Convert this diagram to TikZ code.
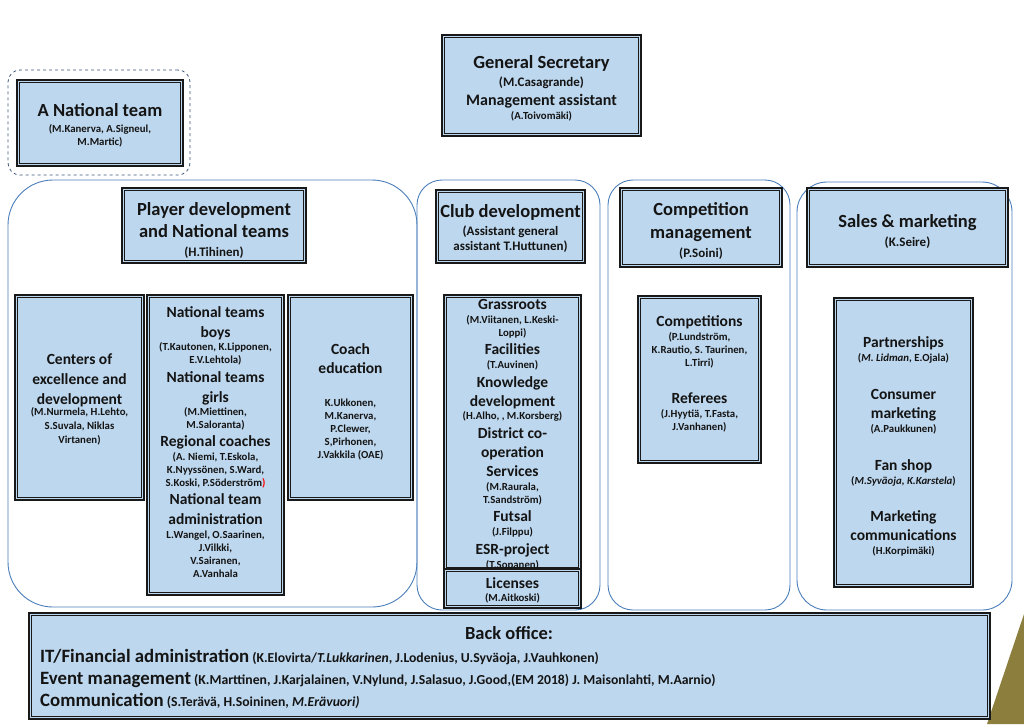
\documentclass[tikz,border=0pt]{standalone}
\usepackage{fontspec}
\setmainfont{Carlito}
\definecolor{boxfill}{HTML}{BDD7EE}
\definecolor{cont}{HTML}{4A7EBB}
\definecolor{contdark}{HTML}{3B5577}
\definecolor{gold}{HTML}{8C7F3E}
\definecolor{txt}{HTML}{141414}
\newcounter{tlc}
\newcommand\txl[4]{\stepcounter{tlc}\node[anchor=mid,#1] (tl\arabic{tlc}) at (#2,#3) {#4};}
\newcommand\bb[6][]{\node[#1,minimum width={#5-#3},minimum height={#6-#4}] (#2) at ({(#3+#5)/2},{(#4+#6)/2}) {};}
% double-bordered box: thick outer line plus thin inner line
\newcommand\dbb[5]{\node[bx,minimum width={#4-#2},minimum height={#5-#3}] (#1) at ({(#2+#4)/2},{(#3+#5)/2}) {};
  \draw[inl] ([shift={(2.6,2.6)}]#1.north west) rectangle ([shift={(-2.6,-2.6)}]#1.south east);}
\newcommand\bhead[1]{{\fontsize{18.8}{20}\selectfont #1}}
\tikzset{
  bx/.style={draw=black!90, line width=1.5pt, fill=boxfill, inner sep=0pt, outer sep=0pt},
  inl/.style={draw=black!90, line width=0.6pt},
  cnt/.style={draw=cont, line width=0.9pt, inner sep=0pt, outer sep=0pt},
  big/.style={font=\fontsize{18.5}{20}\bfseries\selectfont, text=txt, inner sep=0pt, yshift=-4pt},
  mdt/.style={font=\fontsize{16}{18}\bfseries\selectfont, text=txt, inner sep=0pt, yshift=-4pt},
  med/.style={font=\fontsize{15.5}{18}\bfseries\selectfont, text=txt, inner sep=0pt, yshift=-4pt},
  nmm/.style={font=\fontsize{13}{15}\bfseries\selectfont, text=txt, inner sep=0pt, yshift=-3.5pt},
  sml/.style={font=\fontsize{10.8}{12}\bfseries\selectfont, text=txt, inner sep=0pt, yshift=-2pt},
  bol/.style={font=\fontsize{13.7}{15}\bfseries\selectfont, text=txt, inner sep=0pt, anchor=mid west, yshift=-4pt},
}
\begin{document}
\begin{tikzpicture}[x=1pt,y=-1pt]
\useasboundingbox (0,0) rectangle (1024,724);
% background decoration
\fill[gold] (987,724) -- (1024,614) -- (1024,724) -- cycle;
% containers
\bb[draw=contdark, dashed, line width=0.8pt, rounded corners=12pt]{antc}{8}{70}{190}{175}
\bb[cnt, rounded corners=45pt]{c1}{8}{180}{417}{607}
\bb[cnt, rounded corners=25pt]{c2}{417}{180}{600}{610}
\bb[cnt, rounded corners=25pt]{c3}{608}{180}{790}{610}
\bb[cnt, rounded corners=30pt]{c4}{797}{182}{1012}{610}
% boxes
\dbb{ant}{17}{80}{183}{166}
\dbb{gs}{442}{35}{641}{136}
\dbb{pd}{122}{188}{306}{263}
\dbb{cd}{436}{190}{585}{263}
\dbb{cm}{620}{188}{782}{267}
\dbb{sm}{807}{188}{1008}{267}
\dbb{cen}{15}{295}{144}{500}
\dbb{nt}{147}{295}{284}{595}
\dbb{ce}{288}{295}{413}{500}
\dbb{gr}{444}{295}{581}{570}
\dbb{comp}{638}{296}{761}{463}
\dbb{part}{834}{298}{973}{587}
\dbb{bo}{29}{613}{990}{719}
% A National team
\txl{big}{100}{110}{A National team}
\txl{sml}{100}{128}{(M.Kanerva, A.Signeul,}
\txl{sml}{100}{141}{M.Martic)}
% General Secretary
\txl{big}{541.5}{62}{General Secretary}
\txl{nmm}{541.5}{81}{(M.Casagrande)}
\txl{mdt}{541.5}{99}{Management assistant}
\txl{sml}{541.5}{115}{(A.Toivomäki)}
% Player development
\txl{big}{214}{209}{Player development}
\txl{big}{214}{231}{and National teams}
\txl{nmm}{214}{251}{(H.Tihinen)}
% Club development
\txl{big}{510.5}{211}{Club development}
\txl{nmm}{510.5}{230}{(Assistant general}
\txl{nmm}{510.5}{245}{assistant T.Huttunen)}
% Competition management
\txl{big}{701}{209}{Competition}
\txl{big}{701}{232}{management}
\txl{nmm}{701}{252}{(P.Soini)}
% Sales & marketing
\txl{big}{907.5}{221}{Sales \& marketing}
\txl{nmm}{907.5}{241}{(K.Seire)}
% Centers
\txl{med}{79.5}{358}{Centers of}
\txl{med}{79.5}{378}{excellence and}
\txl{med}{79.5}{398}{development}
\txl{sml}{79.5}{411}{(M.Nurmela, H.Lehto,}
\txl{sml}{79.5}{425}{S.Suvala, Niklas}
\txl{sml}{79.5}{439}{Virtanen)}
% National teams
\txl{med}{215.5}{311}{National teams}
\txl{med}{215.5}{331}{boys}
\txl{sml}{215.5}{346}{(T.Kautonen, K.Lipponen,}
\txl{sml}{215.5}{359}{E.V.Lehtola)}
\txl{med}{215.5}{376}{National teams}
\txl{med}{215.5}{396}{girls}
\txl{sml}{215.5}{411}{(M.Miettinen,}
\txl{sml}{215.5}{424}{M.Saloranta)}
\txl{med}{215.5}{440}{Regional coaches}
\txl{sml}{215.5}{456}{(A. Niemi, T.Eskola,}
\txl{sml}{215.5}{469}{K.Nyyssönen, S.Ward,}
\txl{sml}{215.5}{482}{S.Koski, P.Söderström{\color{red})}}
\txl{med}{215.5}{498}{National team}
\txl{med}{215.5}{518}{administration}
\txl{sml}{215.5}{534}{L.Wangel, O.Saarinen,}
\txl{sml}{215.5}{547}{J.Vilkki,}
\txl{sml}{215.5}{560}{V.Sairanen,}
\txl{sml}{215.5}{573}{A.Vanhala}
% Coach education
\txl{med}{350.5}{348}{Coach}
\txl{med}{350.5}{367}{education}
\txl{sml}{350.5}{402}{K.Ukkonen,}
\txl{sml}{350.5}{415}{M.Kanerva,}
\txl{sml}{350.5}{428}{P.Clewer,}
\txl{sml}{350.5}{441}{S,Pirhonen,}
\txl{sml}{350.5}{454}{J.Vakkila (OAE)}
% Grassroots
\txl{med}{512.5}{303}{Grassroots}
\txl{sml}{512.5}{319}{(M.Viitanen, L.Keski-}
\txl{sml}{512.5}{332}{Loppi)}
\txl{med}{512.5}{348}{Facilities}
\txl{sml}{512.5}{364}{(T.Auvinen)}
\txl{med}{512.5}{381}{Knowledge}
\txl{med}{512.5}{400}{development}
\txl{sml}{512.5}{415}{(H.Alho, , M.Korsberg)}
\txl{med}{512.5}{432}{District co-}
\txl{med}{512.5}{451}{operation}
\txl{med}{512.5}{470}{Services}
\txl{sml}{512.5}{486}{(M.Raurala,}
\txl{sml}{512.5}{499}{T.Sandström)}
\txl{med}{512.5}{515}{Futsal}
\txl{sml}{512.5}{531}{(J.Filppu)}
\txl{med}{512.5}{548}{ESR-project}
\txl{sml}{512.5}{564}{(T.Sopanen)}
\dbb{lic}{444}{569}{581}{608}
\txl{med}{512.5}{582}{Licenses}
\txl{sml}{512.5}{597}{(M.Aitkoski)}
% Competitions
\txl{med}{699.5}{320}{Competitions}
\txl{sml}{699.5}{336}{(P.Lundström,}
\txl{sml}{699.5}{349}{K.Rautio, S. Taurinen,}
\txl{sml}{699.5}{362}{L.Tirri)}
\txl{med}{699.5}{397}{Referees}
\txl{sml}{699.5}{413}{(J.Hyytiä, T.Fasta,}
\txl{sml}{699.5}{426}{J.Vanhanen)}
% Partnerships
\txl{med}{903.5}{341}{Partnerships}
\txl{sml}{903.5}{357}{(\textit{M. Lidman}, E.Ojala)}
\txl{med}{903.5}{393}{Consumer}
\txl{med}{903.5}{412}{marketing}
\txl{sml}{903.5}{428}{(A.Paukkunen)}
\txl{med}{903.5}{464}{Fan shop}
\txl{sml}{903.5}{480}{(\textit{M.Syväoja, K.Karstela})}
\txl{med}{903.5}{515}{Marketing}
\txl{med}{903.5}{534}{communications}
\txl{sml}{903.5}{550}{(H.Korpimäki)}
% Back office
\txl{big}{509}{633}{Back office:}
\txl{bol}{40}{656}{\bhead{IT/Financial administration} (K.Elovirta/\textit{T.Lukkarinen}, J.Lodenius, U.Syväoja, J.Vauhkonen)}
\txl{bol}{40}{678}{\bhead{Event management} (K.Marttinen, J.Karjalainen, V.Nylund, J.Salasuo, J.Good,(EM 2018) J. Maisonlahti, M.Aarnio)}
\txl{bol}{40}{700}{\bhead{Communication} (S.Terävä, H.Soininen, \textit{M.Erävuori)}}
\end{tikzpicture}
\end{document}
